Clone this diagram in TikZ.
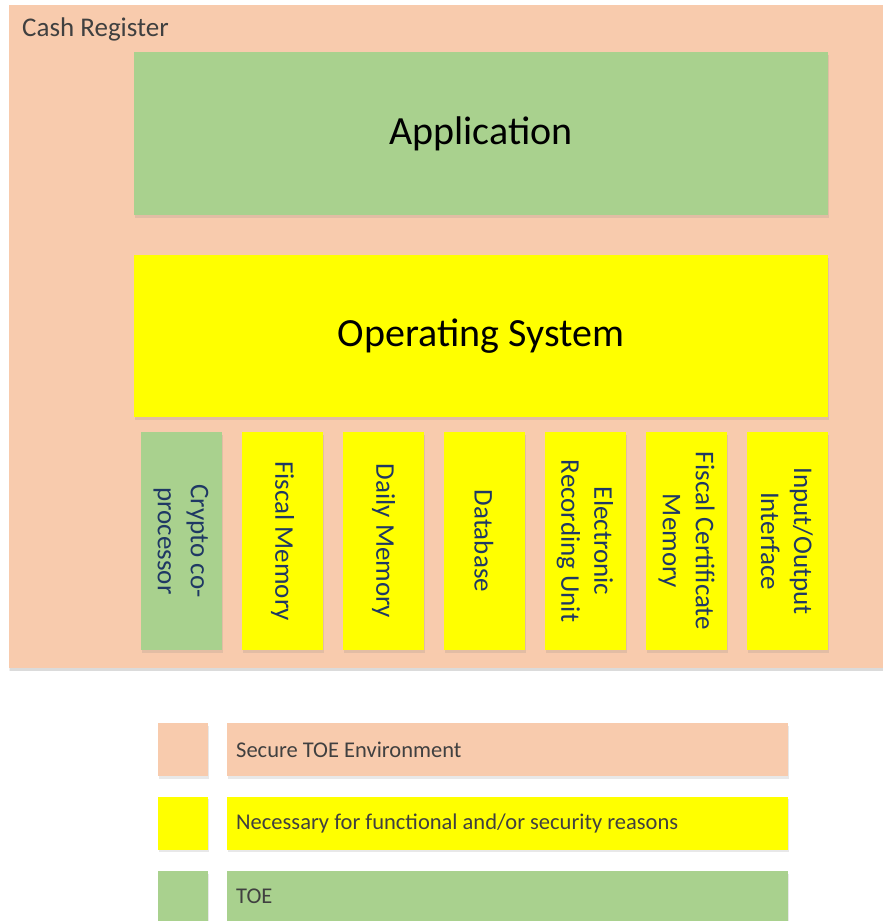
\documentclass[tikz,border=0pt]{standalone}
\usepackage{fontspec}
\setmainfont{Carlito}
\usetikzlibrary{shadows}
\definecolor{peach}{HTML}{F8CBAD}
\definecolor{leaf}{HTML}{A9D18E}
\definecolor{yel}{HTML}{FFFF00}
\definecolor{navy}{HTML}{1F3864}
\definecolor{greytext}{HTML}{404040}
\tikzset{
  box/.style={rectangle, inner sep=0pt, draw=none,
    drop shadow={opacity=0.18, shadow xshift=1pt, shadow yshift=-2.5pt}},
  big/.style={box, minimum width=694pt, minimum height=162pt,
    font=\fontsize{40}{48}\selectfont, text=black},
  slot/.style={box, minimum width=81pt, minimum height=218pt},
  slottext/.style={rotate=-90, align=center, text=navy,
    font=\fontsize{27}{33}\selectfont},
  square/.style={box, minimum width=50pt, minimum height=53pt},
  bar/.style={box, minimum width=561pt, minimum height=53pt},
  legtext/.style={anchor=west, inner sep=0pt, text=greytext,
    font=\fontsize{22.5}{27}\selectfont},
}
\begin{document}
\begin{tikzpicture}[x=1pt,y=-1pt]
\useasboundingbox (0,0) rectangle (883,921);
\clip (0,0) rectangle (883,921);
\fill[white] (0,0) rectangle (883,921);

% outer cash register
\node[box, fill=peach, minimum width=881pt, minimum height=663pt,
  drop shadow={opacity=0.12, shadow xshift=0pt, shadow yshift=-3pt}] (outer) at (449.5,336.5) {};
\node[anchor=base west, inner sep=0pt, text=greytext,
  font=\fontsize{27}{32}\selectfont] (outerlabel) at (22,36) {Cash Register};

% layers
\node[big, fill=leaf, minimum height=163pt] (app) at (481,133.5) {Application};
\node[big, fill=yel] (os) at (481,336) {Operating System};

% components
\node[slot, fill=leaf] (crypto) at (181,541) {};
\node[slottext] (cryptot) at (crypto.center) {Crypto co-\\processor};
\node[slot, fill=yel] (fiscal) at (282.5,541) {};
\node[slottext] (fiscalt) at (fiscal.center) {Fiscal Memory};
\node[slot, fill=yel] (daily) at (383.5,541) {};
\node[slottext] (dailyt) at (daily.center) {Daily Memory};
\node[slot, fill=yel] (db) at (484,541) {};
\node[slottext] (dbt) at (db.center) {Database};
\node[slot, fill=yel] (eru) at (585,541) {};
\node[slottext] (erut) at (eru.center) {Electronic\\Recording Unit};
\node[slot, fill=yel] (fcm) at (686.5,541) {};
\node[slottext] (fcmt) at (fcm.center) {Fiscal Certificate\\Memory};
\node[slot, fill=yel] (io) at (787,541) {};
\node[slottext] (iot) at (io.center) {Input/Output\\Interface};

% legend
\node[square, fill=peach] (sq1) at (183,749.5) {};
\node[bar, fill=peach] (bar1) at (507.5,749.5) {};
\node[legtext] (lt1) at (236,749.5) {Secure TOE Environment};
\node[square, fill=yel] (sq2) at (183,823) {};
\node[bar, fill=yel] (bar2) at (507.5,823) {};
\node[legtext] (lt2) at (236,823) {Necessary for functional and/or security reasons};
\node[square, fill=leaf] (sq3) at (183,897.5) {};
\node[bar, fill=leaf] (bar3) at (507.5,897.5) {};
\node[legtext] (lt3) at (236,896) {TOE};
\end{tikzpicture}
\end{document}
